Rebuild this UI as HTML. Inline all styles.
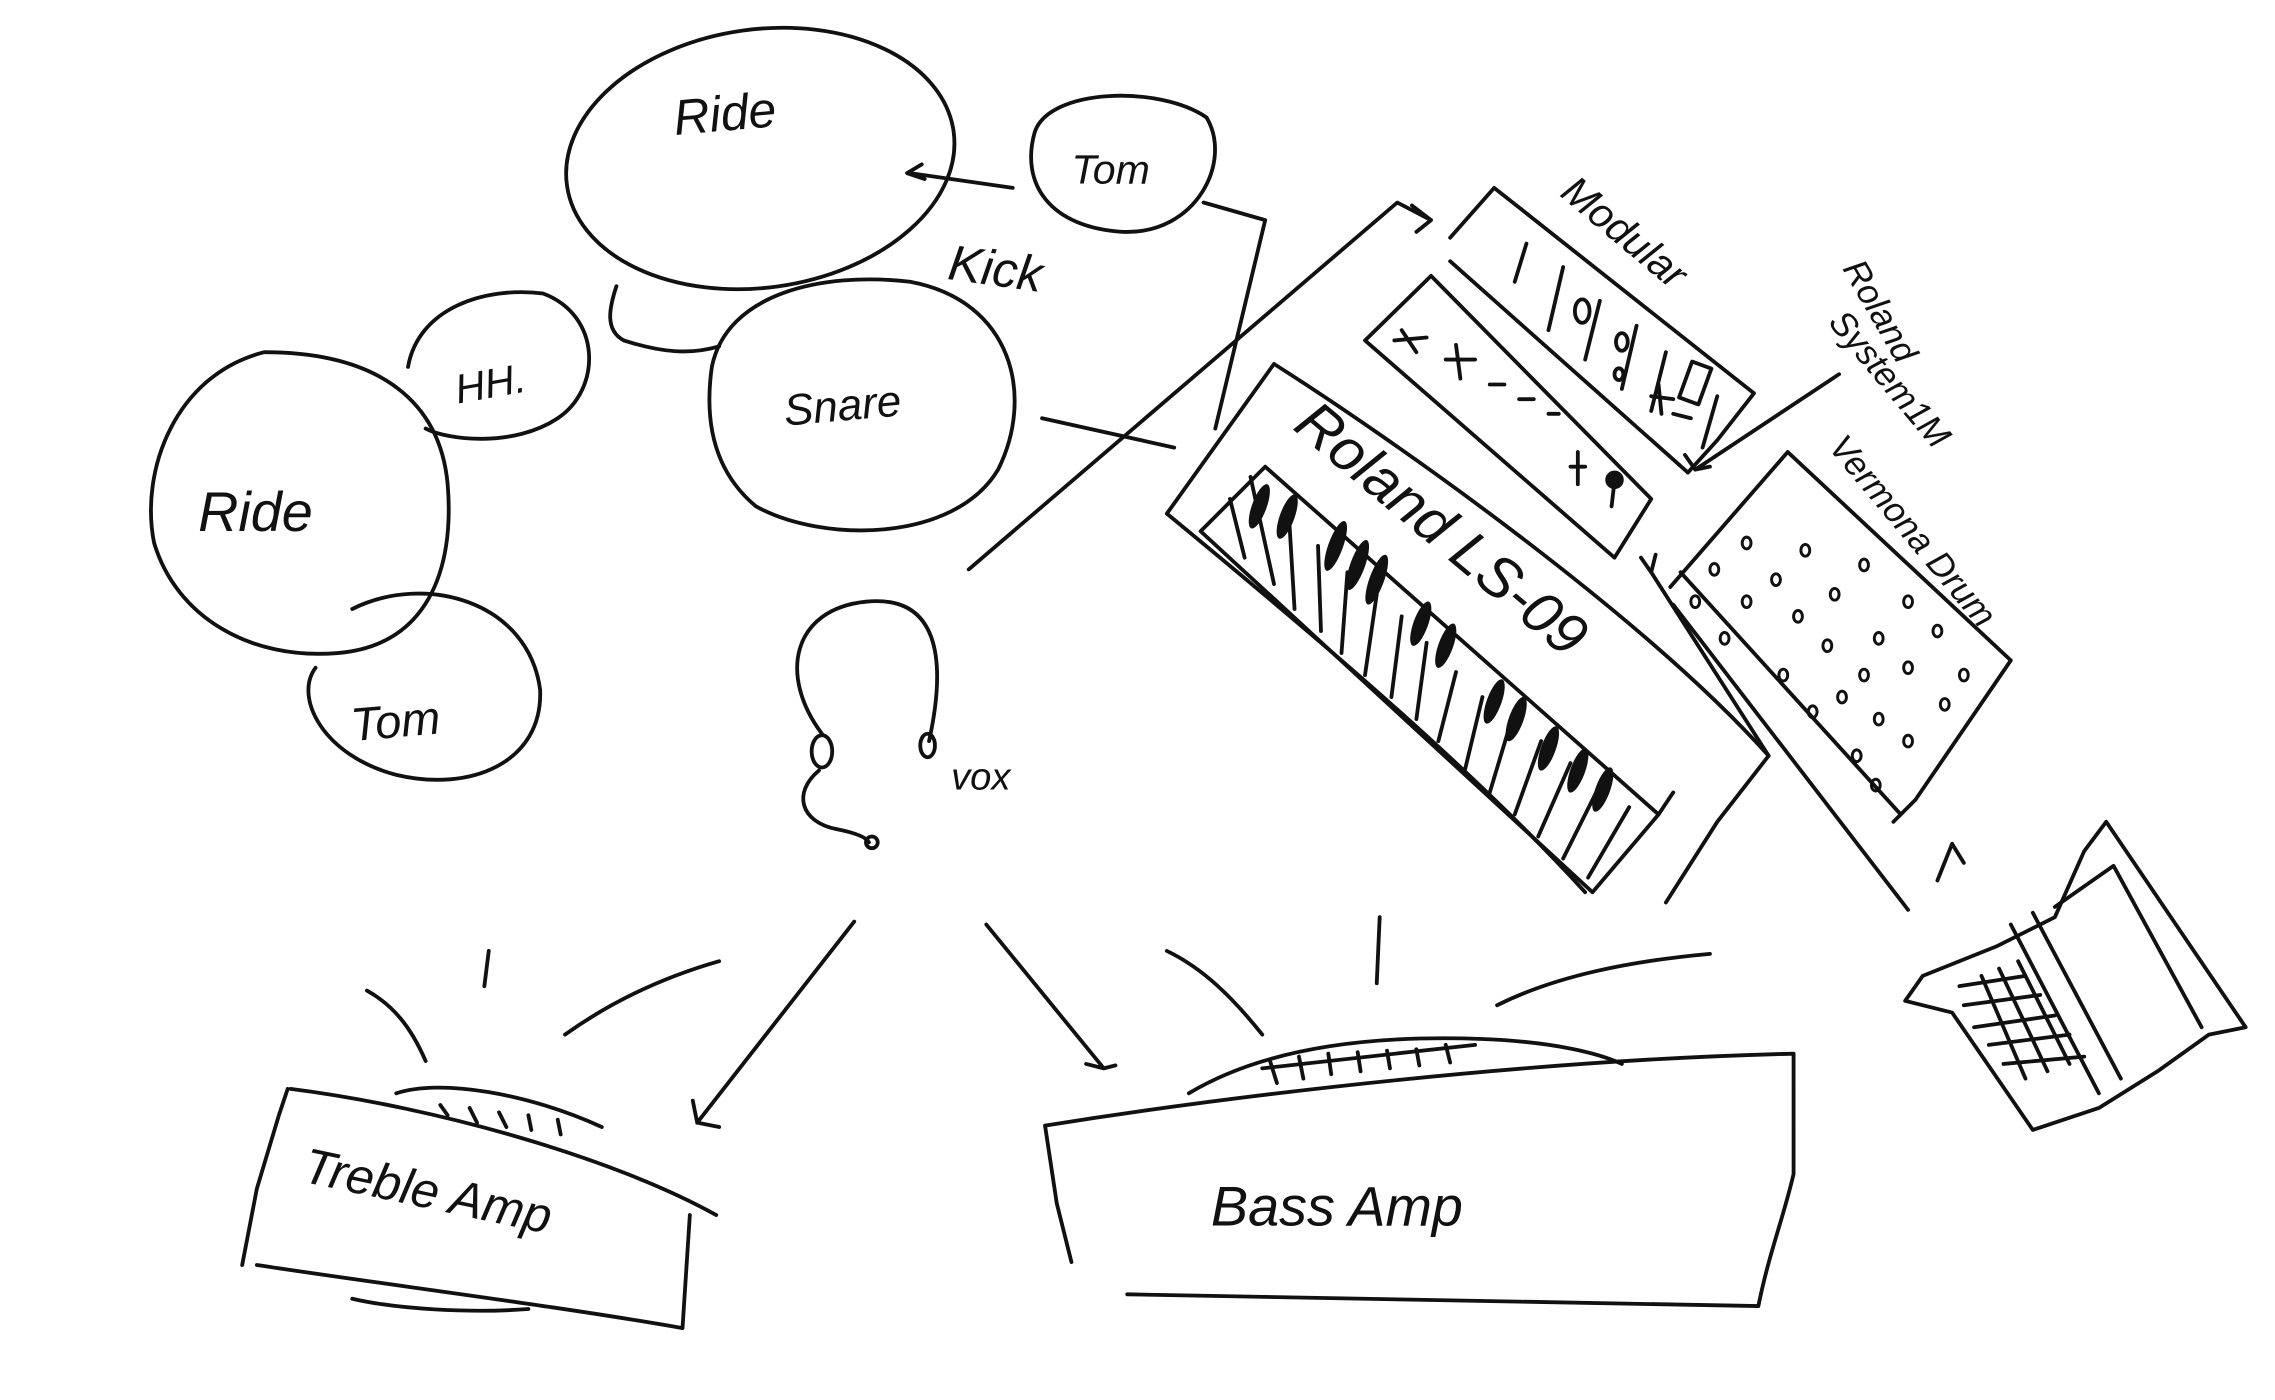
<!DOCTYPE html>
<html><head><meta charset="utf-8"><style>
html,body{margin:0;padding:0;background:#fff;}
svg{display:block;}
text{font-family:"Liberation Sans",sans-serif;fill:#111;font-style:italic;}
</style></head><body>
<svg width="2275" height="1400" viewBox="0 0 1550 954" preserveAspectRatio="none" xmlns="http://www.w3.org/2000/svg">
<g fill="none" stroke="#111" stroke-width="2.6" stroke-linecap="round" stroke-linejoin="round">
<!-- drums -->
<ellipse cx="518" cy="108" rx="133" ry="88" transform="rotate(-8 518 108)"/>
<path d="M705,90 C715,60 790,58 822,80 C840,110 815,160 765,158 C715,155 695,125 705,90 Z"/>
<path d="M485,250 C495,200 560,185 620,192 C690,205 705,270 680,320 C650,370 560,370 515,345 C485,320 480,285 485,250 Z"/>
<path d="M278,250 C285,210 330,195 370,200 C410,215 410,265 380,285 C350,305 305,300 290,292"/>
<path d="M180,240 C120,255 95,320 105,370 C120,420 170,450 230,445 C290,440 310,390 305,330 C300,275 260,240 180,240 Z"/>
<path d="M240,415 C290,390 360,410 368,470 C370,520 320,540 270,528 C220,515 200,475 215,455"/>
<path d="M420,195 C415,210 412,225 425,232 C450,240 470,242 490,236"/>
<path d="M690,128 L620,118 M628,112 L618,118 L630,122"/>
<path d="M820,138 L862,150 L828,292"/>
<path d="M710,285 L800,305"/>
<path d="M660,388 L952,138 L975,150 M962,140 L975,150 L965,158"/>
<!-- headphones -->
<path d="M560,500 C530,460 540,415 590,410 C640,405 645,450 633,505"/>
<ellipse cx="560" cy="512" rx="7" ry="11"/>
<ellipse cx="632" cy="508" rx="5" ry="8"/>
<path d="M558,525 C540,540 545,560 570,565 C580,567 590,570 592,574"/>
<circle cx="594" cy="574" r="4"/>
<!-- arrows to amps -->
<path d="M582,628 L475,765 L490,768 M475,765 L472,750"/>
<path d="M672,630 L752,728 L760,726 M752,728 L740,725"/>
<!-- modular -->
<path d="M988,162 L1018,128 L1195,268 L1170,300 L1150,322"/>
<path d="M988,178 L1150,322 M1040,166 L1032,192 M1065,182 L1055,225 M1090,205 L1080,245 M1115,222 L1105,265 M1135,240 L1125,280 M1170,270 L1160,305"/>
<ellipse cx="1078" cy="212" rx="5" ry="8"/><ellipse cx="1105" cy="233" rx="4" ry="6"/><ellipse cx="1103" cy="255" rx="3" ry="4"/>
<rect x="1148" y="248" width="14" height="26" transform="rotate(20 1155 261)"/>
<path d="M1125,270 L1140,272 M1130,262 L1132,282 M1140,282 L1152,285"/>
<!-- system 1m -->
<path d="M975,188 L930,232 L1100,380 L1125,340 Z"/>
<path d="M955,225 L965,240 M950,232 L972,230 M985,245 L1005,245 M992,235 L995,258 M1015,262 L1025,262 M1035,272 L1045,272 M1055,282 L1062,282 M1070,318 L1080,318 M1075,308 L1075,330 M1100,328 L1098,345"/>
<circle cx="1100" cy="327" r="5" fill="#111"/>
<path d="M1253,255 L1155,320 L1148,310 M1155,320 L1165,318"/>
<!-- keyboard -->
<path d="M795,350 L868,248 M868,248 C950,300 1120,420 1205,515 L1170,560 L1135,615 M795,350 C880,420 1000,520 1080,608"/>
<path d="M818,362 L862,318 L1130,555 L1085,608 Z"/>
<path d="M838,340 L848,380 M852,325 L868,398 M878,348 L882,415 M898,372 L900,430 M918,390 L914,445 M938,405 L930,460 M955,420 L948,475 M972,438 L965,490 M992,458 L980,505 M1010,475 L998,525 M1030,490 L1015,540 M1050,505 L1032,555 M1070,520 L1048,570 M1090,535 L1065,585 M1110,550 L1082,598"/>
<path d="M1130,555 L1140,540 M1125,390 L1118,380 M1125,390 L1128,378 M1125,390 L1205,515"/>
</g>
<g fill="#111">
<ellipse cx="858" cy="345" rx="5" ry="16" transform="rotate(20 858 345)"/>
<ellipse cx="877" cy="352" rx="5" ry="16" transform="rotate(20 877 352)"/>
<ellipse cx="910" cy="372" rx="5" ry="18" transform="rotate(20 910 372)"/>
<ellipse cx="925" cy="385" rx="5" ry="18" transform="rotate(20 925 385)"/>
<ellipse cx="938" cy="395" rx="5" ry="18" transform="rotate(20 938 395)"/>
<ellipse cx="968" cy="425" rx="5" ry="16" transform="rotate(20 968 425)"/>
<ellipse cx="985" cy="440" rx="5" ry="16" transform="rotate(20 985 440)"/>
<ellipse cx="1018" cy="478" rx="5" ry="16" transform="rotate(20 1018 478)"/>
<ellipse cx="1033" cy="490" rx="5" ry="16" transform="rotate(20 1033 490)"/>
<ellipse cx="1055" cy="510" rx="5" ry="16" transform="rotate(20 1055 510)"/>
<ellipse cx="1075" cy="525" rx="5" ry="16" transform="rotate(20 1075 525)"/>
<ellipse cx="1092" cy="538" rx="5" ry="16" transform="rotate(20 1092 538)"/>
</g>
<g fill="none" stroke="#111" stroke-width="2.6" stroke-linecap="round" stroke-linejoin="round">
<!-- vermona -->
<path d="M1218,308 L1138,400 M1218,308 L1370,450 L1305,545 L1290,560 M1145,390 L1295,555 M1140,412 L1300,620"/>
<g stroke-width="2">
<ellipse cx="1168" cy="388" rx="3" ry="4"/><ellipse cx="1190" cy="370" rx="3" ry="4"/><ellipse cx="1210" cy="395" rx="3" ry="4"/><ellipse cx="1230" cy="375" rx="3" ry="4"/>
<ellipse cx="1155" cy="410" rx="3" ry="4"/><ellipse cx="1175" cy="435" rx="3" ry="4"/><ellipse cx="1190" cy="410" rx="3" ry="4"/><ellipse cx="1225" cy="420" rx="3" ry="4"/><ellipse cx="1250" cy="405" rx="3" ry="4"/><ellipse cx="1270" cy="385" rx="3" ry="4"/>
<ellipse cx="1245" cy="440" rx="3" ry="4"/><ellipse cx="1280" cy="435" rx="3" ry="4"/><ellipse cx="1300" cy="410" rx="3" ry="4"/><ellipse cx="1320" cy="430" rx="3" ry="4"/>
<ellipse cx="1215" cy="460" rx="3" ry="4"/><ellipse cx="1255" cy="475" rx="3" ry="4"/><ellipse cx="1270" cy="460" rx="3" ry="4"/><ellipse cx="1300" cy="455" rx="3" ry="4"/><ellipse cx="1338" cy="460" rx="3" ry="4"/>
<ellipse cx="1235" cy="485" rx="3" ry="4"/><ellipse cx="1280" cy="490" rx="3" ry="4"/><ellipse cx="1325" cy="480" rx="3" ry="4"/><ellipse cx="1265" cy="515" rx="3" ry="4"/><ellipse cx="1300" cy="505" rx="3" ry="4"/><ellipse cx="1278" cy="535" rx="3" ry="4"/>
</g>
<path d="M1330,575 L1320,600 M1330,575 L1338,588"/>
<!-- guitar -->
<path d="M1310,665 L1360,645 L1400,625 L1420,580 L1435,560 L1530,700 L1505,705 L1470,730 L1430,755 L1385,770 L1330,690 L1298,682 Z"/>
<path d="M1370,630 L1430,745 M1385,622 L1445,735 M1400,618 L1440,590 L1500,700"/>
<path d="M1335,672 L1380,665 M1338,685 L1390,678 M1345,700 L1400,692 M1355,712 L1410,705 M1365,725 L1420,720 M1350,665 L1380,735 M1362,660 L1395,730 M1375,655 L1410,725"/>
<!-- treble amp -->
<path d="M198,742 C300,755 420,790 488,828"/>
<path d="M196,742 L190,760 L175,810 L165,862 M470,828 L465,905 M175,862 C260,875 380,890 465,905"/>
<path d="M270,745 C300,735 360,745 410,768"/>
<path d="M300,753 L305,760 M320,755 L325,765 M340,758 L345,768 M360,760 L362,770 M380,763 L382,773"/>
<path d="M290,723 C280,700 268,685 250,675 M330,672 L333,648 M385,705 C420,680 455,665 490,655"/>
<path d="M240,885 C270,892 320,895 360,892"/>
<!-- bass amp -->
<path d="M712,767 C850,745 1050,722 1222,718 L1222,800 C1215,830 1205,855 1198,890 M712,767 L720,820 L730,860 M768,882 L1198,890"/>
<path d="M810,745 C860,715 930,705 1010,708 C1060,710 1090,718 1105,725"/>
<path d="M865,722 L870,738 M885,720 L888,735 M905,718 L907,732 M925,717 L927,730 M945,716 L947,728 M965,715 L967,726 M985,712 L988,724 M860,728 L1005,712"/>
<path d="M860,705 C840,680 820,660 795,648 M940,625 L938,670 M1020,685 C1060,665 1110,655 1165,650"/>
</g>
<g font-size="34">
<text x="460" y="92" transform="rotate(-5 460 92)">Ride</text>
<text x="730" y="125" font-size="28">Tom</text>
<text x="645" y="190" transform="rotate(8 645 190)">Kick</text>
<text x="312" y="275" font-size="28" transform="rotate(-10 312 275)">HH.</text>
<text x="535" y="290" font-size="30" transform="rotate(-5 535 290)">Snare</text>
<text x="135" y="362" font-size="38">Ride</text>
<text x="240" y="505" font-size="32" transform="rotate(-5 240 505)">Tom</text>
<text x="648" y="538" font-size="26">vox</text>
<text x="1062" y="133" font-size="28" transform="rotate(40 1062 133)">Modular</text>
<text x="1255" y="183" font-size="24" transform="rotate(60 1255 183)">Roland</text>
<text x="1245" y="220" font-size="24" transform="rotate(50 1245 220)">System1M</text>
<text x="1245" y="305" font-size="24" transform="rotate(50 1245 305)">Vermona Drum</text>
<text x="880" y="292" font-size="40" transform="rotate(40 880 292)">Roland LS-09</text>
<text x="205" y="805" font-size="34" transform="rotate(12 205 805)">Treble Amp</text>
<text x="825" y="835" font-size="38">Bass  Amp</text>
</g>
</svg>
</body></html>
